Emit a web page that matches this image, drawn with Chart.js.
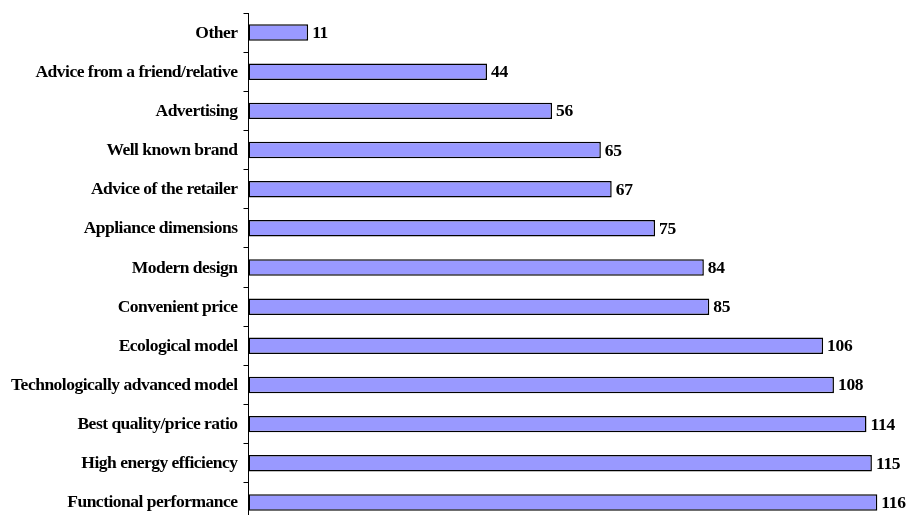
<!DOCTYPE html>
<html>
<head>
<meta charset="utf-8">
<script src="https://cdn.jsdelivr.net/npm/chart.js@4"></script>
<style>
  html, body { margin: 0; padding: 0; background: #fff; overflow: hidden; }
  #wrap { width: 910px; height: 530px; }
</style>
</head>
<body>
<div id="wrap"><canvas id="reasonsChart" width="910" height="530"></canvas></div>
<script>
// Категории (сверху вниз) и количество ответов
const categories = [
  "Other",
  "Advice from a friend/relative",
  "Advertising",
  "Well known brand",
  "Advice of the retailer",
  "Appliance dimensions",
  "Modern design",
  "Convenient price",
  "Ecological model",
  "Technologically advanced model",
  "Best quality/price ratio",
  "High energy efficiency",
  "Functional performance",
];
const answers = [11, 44, 56, 65, 67, 75, 84, 85, 106, 108, 114, 115, 116];
const axisMax = 120;

const serif = "'Liberation Serif', 'Times New Roman', serif";

// Подписи категорий (плотный жирный шрифт) и значения справа от столбцов
const textLabels = {
  id: "textLabels",
  afterDatasetsDraw(chart) {
    const ctx = chart.ctx;
    const yScale = chart.scales.y;
    const meta = chart.getDatasetMeta(0);
    ctx.save();
    ctx.fillStyle = "#000";
    ctx.textBaseline = "middle";

    ctx.font = "bold 17.5px " + serif;
    ctx.letterSpacing = "-0.5px";
    ctx.textAlign = "right";
    categories.forEach((name, i) => {
      ctx.fillText(name, yScale.right - 11, yScale.getPixelForTick(i) + 0.5);
    });

    ctx.font = "bold 17.5px " + serif;
    ctx.letterSpacing = "-0.3px";
    ctx.textAlign = "left";
    meta.data.forEach((bar, i) => {
      ctx.fillText(String(answers[i]), bar.x + 4, bar.y + 1);
    });
    ctx.restore();
  },
};

const ctx = document.getElementById("reasonsChart").getContext("2d");
new Chart(ctx, {
  type: "bar",
  data: {
    labels: categories,
    datasets: [
      {
        data: answers,
        backgroundColor: "#9999FF",
        borderColor: "#000",
        borderWidth: 1.5,
        borderSkipped: false,
        categoryPercentage: 1,
        barPercentage: 0.42,
      },
    ],
  },
  options: {
    indexAxis: "y",
    responsive: false,
    animation: false,
    layout: { padding: { top: 13, bottom: 8, right: 11, left: 0 } },
    scales: {
      x: { display: false, min: 0, max: axisMax },
      y: {
        afterFit: (scale) => { scale.width = 248.5; },
        grid: {
          offset: true,
          drawOnChartArea: false,
          tickLength: 5,
          color: "#000",
        },
        border: { color: "#000", width: 1 },
        ticks: { display: false },
      },
    },
    plugins: {
      legend: { display: false },
      tooltip: { enabled: false },
    },
  },
  plugins: [textLabels],
});
</script>
</body>
</html>
